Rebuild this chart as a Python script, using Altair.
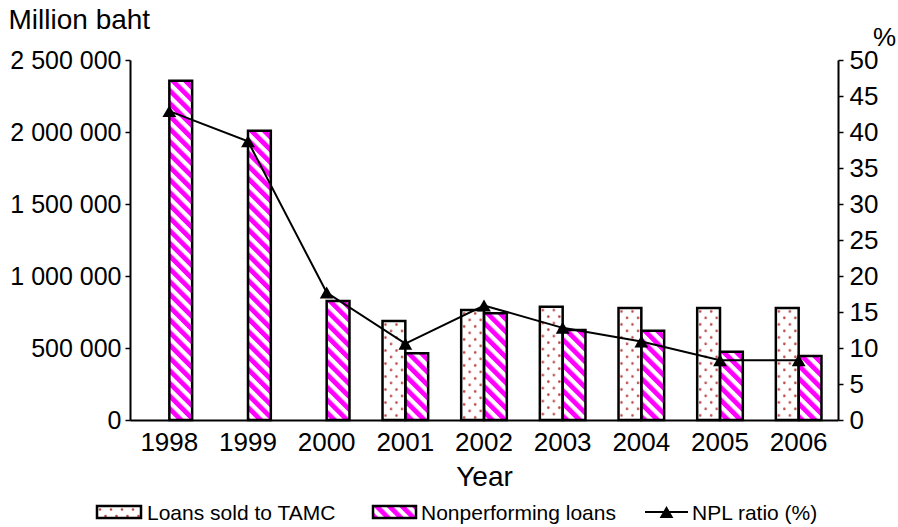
import base64
import altair as alt
import pandas as pd

# ---------------- data ----------------
years = ["1998", "1999", "2000", "2001", "2002", "2003", "2004", "2005", "2006"]
loans_sold = [0, 0, 0, 687000, 764000, 787000, 778000, 778000, 778000]
npl_loans = [2356000, 2009000, 826000, 463000, 741000, 625000, 620000, 474000, 444000]
npl_ratio = [42.9, 38.7, 17.7, 10.6, 15.9, 12.8, 10.9, 8.3, 8.3]
series_names = ["Loans sold to TAMC", "Nonperforming loans", "NPL ratio (%)"]
left_ticks = [0, 500000, 1000000, 1500000, 2000000, 2500000]
right_ticks = [0, 5, 10, 15, 20, 25, 30, 35, 40, 45, 50]

FONT = "Liberation Sans"


def svg_url(svg):
    return "data:image/svg+xml;base64," + base64.b64encode(svg.encode("utf-8")).decode("ascii")


dots_url = svg_url(
    "<svg xmlns='http://www.w3.org/2000/svg' width='100%' height='100%'>"
    "<defs><pattern id='d' width='11' height='13' patternUnits='userSpaceOnUse'>"
    "<circle cx='3' cy='3.5' r='1.3' fill='#b94a48'/>"
    "<circle cx='8.5' cy='10' r='1.3' fill='#b94a48'/>"
    "</pattern></defs>"
    "<rect width='100%' height='100%' fill='#ffffff'/>"
    "<rect width='100%' height='100%' fill='url(#d)'/></svg>"
)
stripes_url = svg_url(
    "<svg xmlns='http://www.w3.org/2000/svg' width='100%' height='100%'>"
    "<defs><pattern id='s' width='9' height='9' patternUnits='userSpaceOnUse' patternTransform='rotate(-45)'>"
    "<rect x='0' y='0' width='4.8' height='9' fill='#ff00ff'/>"
    "</pattern></defs>"
    "<rect width='100%' height='100%' fill='#ffffff'/>"
    "<rect width='100%' height='100%' fill='url(#s)'/></svg>"
)

bars_df = pd.DataFrame({
    "year": years * 2,
    "series": [series_names[0]] * len(years) + [series_names[1]] * len(years),
    "value": loans_sold + npl_loans,
})
bars_df = bars_df[bars_df["value"] > 0]
ratio_df = pd.DataFrame({"year": years, "ratio": npl_ratio})

# ---------------- encodings ----------------
x_enc = alt.X(
    "year:N",
    scale=alt.Scale(domain=years, paddingInner=0.42, paddingOuter=0.21),
    axis=alt.Axis(title="Year", labelAngle=0, ticks=False, labelFontSize=26,
                  labelPadding=9, titleFontSize=28, titlePadding=8),
)
x_off = alt.XOffset("series:N", scale=alt.Scale(domain=series_names[:2], paddingInner=0, paddingOuter=0))

y_left = alt.Y(
    "value:Q",
    scale=alt.Scale(domain=[0, 2500000], nice=False),
    axis=alt.Axis(values=left_ticks,
                  labelExpr="replace(format(datum.value, ','), regexp(',', 'g'), ' ')",
                  title="Million baht", titleAngle=0, titleAlign="left",
                  titleBaseline="alphabetic", titleX=-122, titleY=-32,
                  titleFontSize=28, labelFontSize=25, tickSize=5, labelPadding=4),
)
y_right = alt.Y(
    "ratio:Q",
    scale=alt.Scale(domain=[0, 50], nice=False),
    axis=alt.Axis(orient="right", values=right_ticks, title="%", titleAngle=0,
                  titleAlign="center", titleBaseline="alphabetic", titleX=46, titleY=-15,
                  titleFontSize=26, labelFontSize=26, tickSize=5, labelPadding=6),
)

img_loans = alt.Chart(bars_df).transform_filter(
    alt.datum.series == series_names[0]
).mark_image(aspect=False).encode(
    x=x_enc, xOffset=x_off, y=y_left, y2=alt.datum(0), url=alt.value(dots_url)
)
img_npl = alt.Chart(bars_df).transform_filter(
    alt.datum.series == series_names[1]
).mark_image(aspect=False).encode(
    x=x_enc, xOffset=x_off, y=y_left, y2=alt.datum(0), url=alt.value(stripes_url)
)
outline = alt.Chart(bars_df).mark_bar(
    fillOpacity=0, stroke="black", strokeWidth=2.5
).encode(x=x_enc, xOffset=x_off, y=y_left)

bars_layer = alt.layer(img_loans, img_npl, outline)

line = alt.Chart(ratio_df).mark_line(color="black", strokeWidth=2).encode(x=x_enc, y=y_right)
pts = alt.Chart(ratio_df).mark_point(
    shape="triangle-up", filled=True, color="black", size=190, opacity=1
).encode(x=x_enc, y=y_right)
line_layer = alt.layer(line, pts)

# ---------------- legend (drawn below the plot) ----------------
def one(label):
    return alt.Data(values=[{"label": label}])

leg_img1 = alt.Chart(one(series_names[0])).mark_image(aspect=False).encode(
    x=alt.value(-33), x2=alt.value(11), y=alt.value(446), y2=alt.value(458), url=alt.value(dots_url))
leg_box1 = alt.Chart(one(series_names[0])).mark_rect(fillOpacity=0, stroke="black", strokeWidth=2.5).encode(
    x=alt.value(-33), x2=alt.value(11), y=alt.value(446), y2=alt.value(458))
leg_txt1 = alt.Chart(one(series_names[0])).mark_text(align="left", baseline="alphabetic", fontSize=21, color="black").encode(
    x=alt.value(17), y=alt.value(460), text="label:N")

leg_img2 = alt.Chart(one(series_names[1])).mark_image(aspect=False).encode(
    x=alt.value(243), x2=alt.value(286), y=alt.value(446), y2=alt.value(458), url=alt.value(stripes_url))
leg_box2 = alt.Chart(one(series_names[1])).mark_rect(fillOpacity=0, stroke="black", strokeWidth=2.5).encode(
    x=alt.value(243), x2=alt.value(286), y=alt.value(446), y2=alt.value(458))
leg_txt2 = alt.Chart(one(series_names[1])).mark_text(align="left", baseline="alphabetic", fontSize=21, color="black").encode(
    x=alt.value(291), y=alt.value(460), text="label:N")

leg_line3 = alt.Chart(one(series_names[2])).mark_rule(color="black", strokeWidth=2).encode(
    x=alt.value(515), x2=alt.value(558), y=alt.value(452))
leg_pt3 = alt.Chart(one(series_names[2])).mark_point(shape="triangle-up", filled=True, color="black", size=190, opacity=1).encode(
    x=alt.value(536.5), y=alt.value(452))
leg_txt3 = alt.Chart(one(series_names[2])).mark_text(align="left", baseline="alphabetic", fontSize=21, color="black").encode(
    x=alt.value(562), y=alt.value(460), text="label:N")

legend_layer = alt.layer(leg_img1, leg_box1, leg_txt1, leg_img2, leg_box2, leg_txt2, leg_line3, leg_pt3, leg_txt3)

chart = alt.layer(bars_layer, line_layer, legend_layer).resolve_scale(
    y="independent"
).properties(
    width=708, height=360,
    autosize=alt.AutoSizeParams(type="none"),
    padding={"left": 130, "top": 60, "right": 60, "bottom": 107},
).configure(font=FONT).configure_view(stroke=None).configure_axis(
    grid=False, labelColor="black", titleColor="black", domainColor="black",
    tickColor="black", domainWidth=2, tickWidth=1.5, titleFontWeight="normal",
    labelFont=FONT, titleFont=FONT,
)

chart.save("out.html", embed_options={"renderer": "svg", "actions": False})
